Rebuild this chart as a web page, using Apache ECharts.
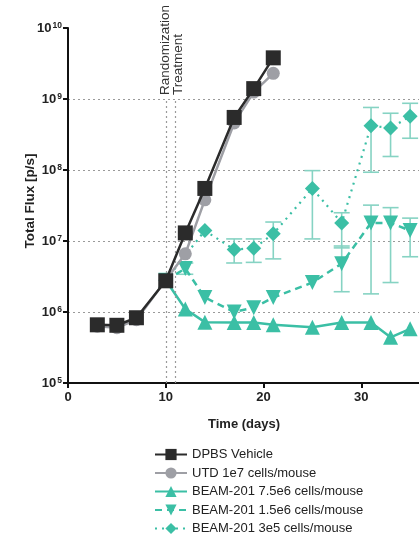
<!DOCTYPE html>
<html><head><meta charset="utf-8">
<script src="https://cdn.jsdelivr.net/npm/echarts@6/dist/echarts.min.js"></script>
<style>html,body{margin:0;padding:0;background:#fff}#c{width:419px;height:545px}</style>
</head><body><div id="c"></div>
<script>
// ---- data ----
const dpbsDays = [3,5,7,10,12,14,17,19,21];
const dpbsFlux = [6.6e5,6.5e5,8.3e5,2.75e6,1.3e7,5.5e7,5.5e8,1.4e9,3.8e9];
const utdDays = [3,5,7,10,12,14,17,19,21];
const utdFlux = [6.3e5,6.0e5,7.8e5,2.8e6,6.6e6,3.8e7,4.6e8,1.25e9,2.3e9];
const hiDays = [10,12,14,17,19,21,25,28,31,33,35];
const hiFlux = [2.8e6,1.1e6,7.2e5,7.1e5,7.1e5,6.6e5,6.1e5,7.1e5,7.1e5,4.4e5,5.8e5];
const midDays = [10,12,14,17,19,21,25,28,31,33,35];
const midFlux = [2.8e6,4.1e6,1.6e6,1.0e6,1.15e6,1.6e6,2.6e6,4.8e6,1.8e7,1.8e7,1.4e7];
const midErrLow  = [null,3.4e6,null,null,null,null,null,1.93e6,1.8e6,2.6e6,6.0e6];
const midErrHigh = [null,4.9e6,null,null,null,null,null,8.5e6,3.2e7,2.95e7,2.1e7];
const lowDays = [10,14,17,19,21,25,28,31,33,35];
const lowFlux = [2.8e6,1.4e7,7.6e6,7.9e6,1.26e7,5.5e7,1.8e7,4.2e8,3.9e8,5.7e8];
const lowErrLow  = [null,null,4.9e6,5.0e6,5.6e6,1.07e7,8.0e6,9.3e7,1.55e8,2.8e8];
const lowErrHigh = [null,null,1.07e7,1.07e7,1.85e7,9.8e7,2.5e7,7.6e8,6.3e8,8.7e8];
const eventDays = [10, 11];
const eventLabels = ['Randomization', 'Treatment'];
const seriesNames = ['DPBS Vehicle','UTD 1e7 cells/mouse','BEAM-201 7.5e6 cells/mouse','BEAM-201 1.5e6 cells/mouse','BEAM-201 3e5 cells/mouse'];
const xTicks = [0,10,20,30,40];

const BLACK = '#2b2b2b', GREY = '#9e9fa5', TEAL = '#3bbfa5', TEAL_ERR = '#86d3c3';
const FONT = 'Liberation Sans, Arial, sans-serif';

function pairs(xs, ys){ return xs.map((x,i)=>[x, ys[i]]); }
function errData(xs, lo, hi){ const out=[]; xs.forEach((x,i)=>{ if(lo[i]!=null) out.push([x, lo[i], hi[i]]); }); return out; }

function errRender(params, api){
  const x = api.value(0);
  const p1 = api.coord([x, api.value(1)]);
  const p2 = api.coord([x, api.value(2)]);
  const w = 8;
  const st = {stroke: TEAL_ERR, lineWidth: 1.6, fill: null};
  return {type:'group', children:[
    {type:'line', shape:{x1:p1[0],y1:p1[1],x2:p2[0],y2:p2[1]}, style:st},
    {type:'line', shape:{x1:p1[0]-w,y1:p1[1],x2:p1[0]+w,y2:p1[1]}, style:st},
    {type:'line', shape:{x1:p2[0]-w,y1:p2[1],x2:p2[0]+w,y2:p2[1]}, style:st}
  ]};
}

const chart = echarts.init(document.getElementById('c'), null, {renderer:'canvas'});
const option = {
  animation: false,
  textStyle: {fontFamily: FONT},
  grid: {left: 68, width: 391, top: 28, height: 355, containLabel: false, outerBoundsMode: 'none'},
  xAxis: {
    type: 'value', min: 0, max: 40, interval: 10,
    axisLine: {lineStyle: {color: '#111', width: 2}},
    axisTick: {show: true, length: 5, lineStyle: {color: '#111', width: 2}},
    axisLabel: {color: '#222', fontSize: 13, fontWeight: 'bold', margin: 8,
      formatter: v => xTicks.indexOf(v) >= 0 ? String(v) : ''},
    splitLine: {show: false}
  },
  yAxis: {
    type: 'log', logBase: 10, min: 1e5, max: 1e10,
    axisLine: {show: true, lineStyle: {color: '#111', width: 2}},
    axisTick: {show: true, length: 5, lineStyle: {color: '#111', width: 2}},
    axisLabel: {margin: 6,
      formatter: v => '{b|10}{s|' + Math.round(Math.log10(v)) + '}',
      rich: {b: {fontSize: 13, fontWeight: 'bold', color: '#222', fontFamily: FONT},
             s: {fontSize: 8.5, fontWeight: 'bold', color: '#222', verticalAlign: 'top', padding:[0,0,5,1], fontFamily: FONT}}},
    splitLine: {show: true, showMinLine: false, showMaxLine: false, lineStyle: {color: '#9a9a9a', type: [2,3], width: 1.2}}
  },
  legend: {
    orient: 'vertical', left: 149, top: 443, itemWidth: 32, itemHeight: 14, itemGap: 5.5,
    data: seriesNames,
    textStyle: {fontSize: 13, color: '#222', fontFamily: FONT}
  },
  series: [
    {type:'custom', name:'errLow', renderItem: errRender, data: errData(lowDays, lowErrLow, lowErrHigh), z: 1, silent:true},
    {type:'custom', name:'errMid', renderItem: errRender, data: errData(midDays, midErrLow, midErrHigh), z: 1, silent:true},
    {type:'line', name: seriesNames[4], data: pairs(lowDays, lowFlux), symbol:'diamond', symbolSize: 15,
      lineStyle:{color: TEAL, width: 2.2, type:[2,5]}, itemStyle:{color: TEAL}, z: 2,
      markLine: {silent:true, symbol:'none', label:{show:false},
        lineStyle:{color:'#9a9a9a', type:[2,3], width:1.2},
        data: eventDays.map(d => [{coord:[d,1e5]},{coord:[d,1e9]}])}},
    {type:'line', name: seriesNames[3], data: pairs(midDays, midFlux), symbol:'triangle', symbolRotate: 180, symbolSize: 15,
      lineStyle:{color: TEAL, width: 2.5, type:[7,5]}, itemStyle:{color: TEAL}, z: 3},
    {type:'line', name: seriesNames[2], data: pairs(hiDays, hiFlux), symbol:'triangle', symbolSize: 15,
      lineStyle:{color: TEAL, width: 2.5}, itemStyle:{color: TEAL}, z: 4},
    {type:'line', name: seriesNames[1], data: pairs(utdDays, utdFlux), symbol:'circle', symbolSize: 13,
      lineStyle:{color: GREY, width: 2.5}, itemStyle:{color: GREY}, z: 5},
    {type:'line', name: seriesNames[0], data: pairs(dpbsDays, dpbsFlux), symbol:'rect', symbolSize: 15,
      lineStyle:{color: BLACK, width: 2.5}, itemStyle:{color: BLACK}, z: 6}
  ]
};
chart.setOption(option);

// annotation texts placed via axis conversion
const topY = chart.convertToPixel({gridIndex:0}, [0, 1e9])[1];
const gfx = [];
eventDays.forEach((d,i) => {
  const px = chart.convertToPixel({gridIndex:0}, [d, 1e9])[0];
  gfx.push({type:'text', x: px + (i===0 ? 0 : 3), y: topY - 4, rotation: Math.PI/2,
    style:{text: eventLabels[i], fontSize: 13.5, fontFamily: FONT, fill:'#333', align:'left', verticalAlign:'middle'}});
});
gfx.push({type:'text', left: 208, top: 418, style:{text:'Time (days)', fontSize: 13, fontWeight:'bold', fontFamily: FONT, fill:'#222'}});
gfx.push({type:'text', x: 30, y: 201, rotation: Math.PI/2,
  style:{text:'Total Flux [p/s]', fontSize: 13.5, fontWeight:'bold', fontFamily: FONT, fill:'#222', align:'center', verticalAlign:'middle'}});
chart.setOption({graphic: gfx});
</script></body></html>
